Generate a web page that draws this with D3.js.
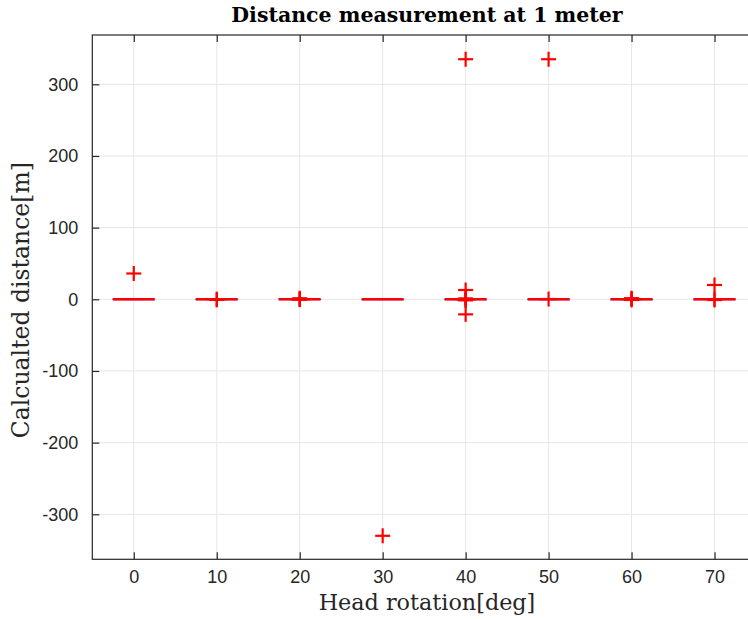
<!DOCTYPE html>
<html>
<head>
<meta charset="utf-8">
<script src="https://cdn.jsdelivr.net/npm/d3@7/dist/d3.min.js"></script>
<style>
  html, body { margin: 0; padding: 0; background: #fff; }
  svg { display: block; }
</style>
</head>
<body>
<svg id="chart" width="748" height="619"></svg>
<script>
// Head rotation angles (deg), one box per angle
const categories = [0, 10, 20, 30, 40, 50, 60, 70];

// Box statistics per angle (m): lower whisker, q1, median, q3, upper whisker
const whiskerLow  = [-0.4, -0.5, -0.6, -0.3, -0.7, -0.5, -0.6, -0.5];
const q1          = [-0.2, -0.3, -0.3, -0.2, -0.4, -0.3, -0.3, -0.3];
const medians     = [0.1, 0.0, 0.1, 0.0, 0.0, 0.1, 0.0, 0.0];
const q3          = [0.3, 0.3, 0.4, 0.2, 0.4, 0.3, 0.3, 0.3];
const whiskerHigh = [0.6, 0.5, 0.7, 0.4, 0.8, 0.6, 0.6, 0.6];

// Outlying measurements per angle (m)
const outliers = [
  [36],
  [0.2, -0.8],
  [0.3, -0.5, 1.5],
  [-330],
  [335, 13, -21, 0.5, -0.8, -1.5, 1.2],
  [335, 0.4],
  [0.4, -0.9, 1.6],
  [20, 0.3, -1.0]
];

// Tick labels
const yTicks = [-300, -200, -100, 0, 100, 200, 300];
const yTickLabels = ["-300", "-200", "-100", "0", "100", "200", "300"];

const margin = { left: 92.3, top: 35, right: 756, bottom: 559.3 };

const svg = d3.select("#chart");

const x = d3.scaleLinear().domain([0.5, 8.5]).range([margin.left, margin.right]);
const y = d3.scaleLinear().domain([-362.8, 368.8]).range([margin.bottom, margin.top]);

const axisColor = "#262626";
const gridColor = "#e6e6e6";
const tickFont = "'Liberation Sans', Arial, Helvetica, sans-serif";
const labelFont = "'DejaVu Serif', 'Liberation Serif', serif";

// Grid
const grid = svg.append("g");
grid.selectAll("line.gx").data(categories).join("line")
  .attr("x1", (d, i) => x(i + 1)).attr("x2", (d, i) => x(i + 1))
  .attr("y1", margin.top).attr("y2", margin.bottom)
  .attr("stroke", gridColor).attr("stroke-width", 1);
grid.selectAll("line.gy").data(yTicks).join("line")
  .attr("x1", margin.left).attr("x2", margin.right)
  .attr("y1", d => y(d)).attr("y2", d => y(d))
  .attr("stroke", gridColor).attr("stroke-width", 1);

// Boxes
const boxHalf = (x(2) - x(1)) * 0.25;
const boxes = svg.append("g");
categories.forEach((c, i) => {
  const cx = x(i + 1);
  const g = boxes.append("g");
  // whiskers
  g.append("line").attr("x1", cx).attr("x2", cx).attr("y1", y(q3[i])).attr("y2", y(whiskerHigh[i]))
    .attr("stroke", "#0000ff").attr("stroke-width", 1).attr("stroke-dasharray", "4,3");
  g.append("line").attr("x1", cx).attr("x2", cx).attr("y1", y(q1[i])).attr("y2", y(whiskerLow[i]))
    .attr("stroke", "#0000ff").attr("stroke-width", 1).attr("stroke-dasharray", "4,3");
  g.append("line").attr("x1", cx - boxHalf / 2).attr("x2", cx + boxHalf / 2)
    .attr("y1", y(whiskerHigh[i])).attr("y2", y(whiskerHigh[i])).attr("stroke", "#000").attr("stroke-width", 1);
  g.append("line").attr("x1", cx - boxHalf / 2).attr("x2", cx + boxHalf / 2)
    .attr("y1", y(whiskerLow[i])).attr("y2", y(whiskerLow[i])).attr("stroke", "#000").attr("stroke-width", 1);
  // box
  g.append("rect")
    .attr("x", cx - boxHalf).attr("width", boxHalf * 2)
    .attr("y", y(q3[i])).attr("height", Math.max(0.5, y(q1[i]) - y(q3[i])))
    .attr("fill", "none").attr("stroke", "#6666ff").attr("stroke-width", 1.5);
  // median
  g.append("line").attr("x1", cx - boxHalf).attr("x2", cx + boxHalf)
    .attr("y1", y(medians[i])).attr("y2", y(medians[i]))
    .attr("stroke", "#ff0000").attr("stroke-width", 2.4);
});

// Outlier markers (+)
const ms = 7.5;
const marks = svg.append("g").attr("stroke", "#ff0000").attr("stroke-width", 2.2);
outliers.forEach((vals, i) => {
  const cx = x(i + 1);
  vals.forEach(v => {
    const cy = y(v);
    marks.append("line").attr("x1", cx - ms).attr("x2", cx + ms).attr("y1", cy).attr("y2", cy);
    marks.append("line").attr("x1", cx).attr("x2", cx).attr("y1", cy - ms).attr("y2", cy + ms);
  });
});

// Axes frame
const frame = svg.append("g").attr("stroke", axisColor).attr("stroke-width", 1.2).attr("fill", "none");
frame.append("rect").attr("x", margin.left).attr("y", margin.top)
  .attr("width", margin.right - margin.left).attr("height", margin.bottom - margin.top);

// Axes with inward ticks
const tickLen = 7;
const xAxis = d3.axisBottom(x).tickValues(d3.range(1, 9)).tickFormat((d, i) => String(categories[i]))
  .tickSizeInner(-tickLen).tickSizeOuter(0).tickPadding(11);
const gx = svg.append("g").attr("transform", `translate(0,${margin.bottom})`).call(xAxis);
const xTop = d3.axisTop(x).tickValues(d3.range(1, 9)).tickFormat("")
  .tickSizeInner(-tickLen).tickSizeOuter(0);
const gxt = svg.append("g").attr("transform", `translate(0,${margin.top})`).call(xTop);
const yAxis = d3.axisLeft(y).tickValues(yTicks).tickFormat((d, i) => yTickLabels[i])
  .tickSizeInner(-tickLen).tickSizeOuter(0).tickPadding(14);
const gy = svg.append("g").attr("transform", `translate(${margin.left},0)`).call(yAxis);
const yRight = d3.axisRight(y).tickValues(yTicks).tickFormat("")
  .tickSizeInner(-tickLen).tickSizeOuter(0);
const gyr = svg.append("g").attr("transform", `translate(${margin.right},0)`).call(yRight);

[gx, gxt, gy, gyr].forEach(g => {
  g.select(".domain").remove();
  g.selectAll(".tick line").attr("stroke", axisColor).attr("stroke-width", 1.2);
  g.selectAll(".tick text").attr("fill", axisColor)
    .style("font-family", tickFont).style("font-size", "18px");
});
gx.selectAll(".tick text").attr("dy", "0.71em");

// Title and axis labels
svg.append("text")
  .attr("x", 427).attr("y", 22)
  .attr("text-anchor", "middle")
  .style("font-family", labelFont).style("font-weight", "bold").style("font-size", "20.5px")
  .attr("fill", "#000")
  .text("Distance measurement at 1 meter");

svg.append("text")
  .attr("x", 427).attr("y", 610)
  .attr("text-anchor", "middle")
  .style("font-family", labelFont).style("font-size", "22.3px")
  .attr("fill", "#262626")
  .text("Head rotation[deg]");

svg.append("text")
  .attr("transform", `translate(29,${(margin.top + margin.bottom) / 2 + 3}) rotate(-90)`)
  .attr("text-anchor", "middle")
  .style("font-family", labelFont).style("font-size", "23.5px")
  .attr("fill", "#262626")
  .text("Calcualted distance[m]");
</script>
</body>
</html>
